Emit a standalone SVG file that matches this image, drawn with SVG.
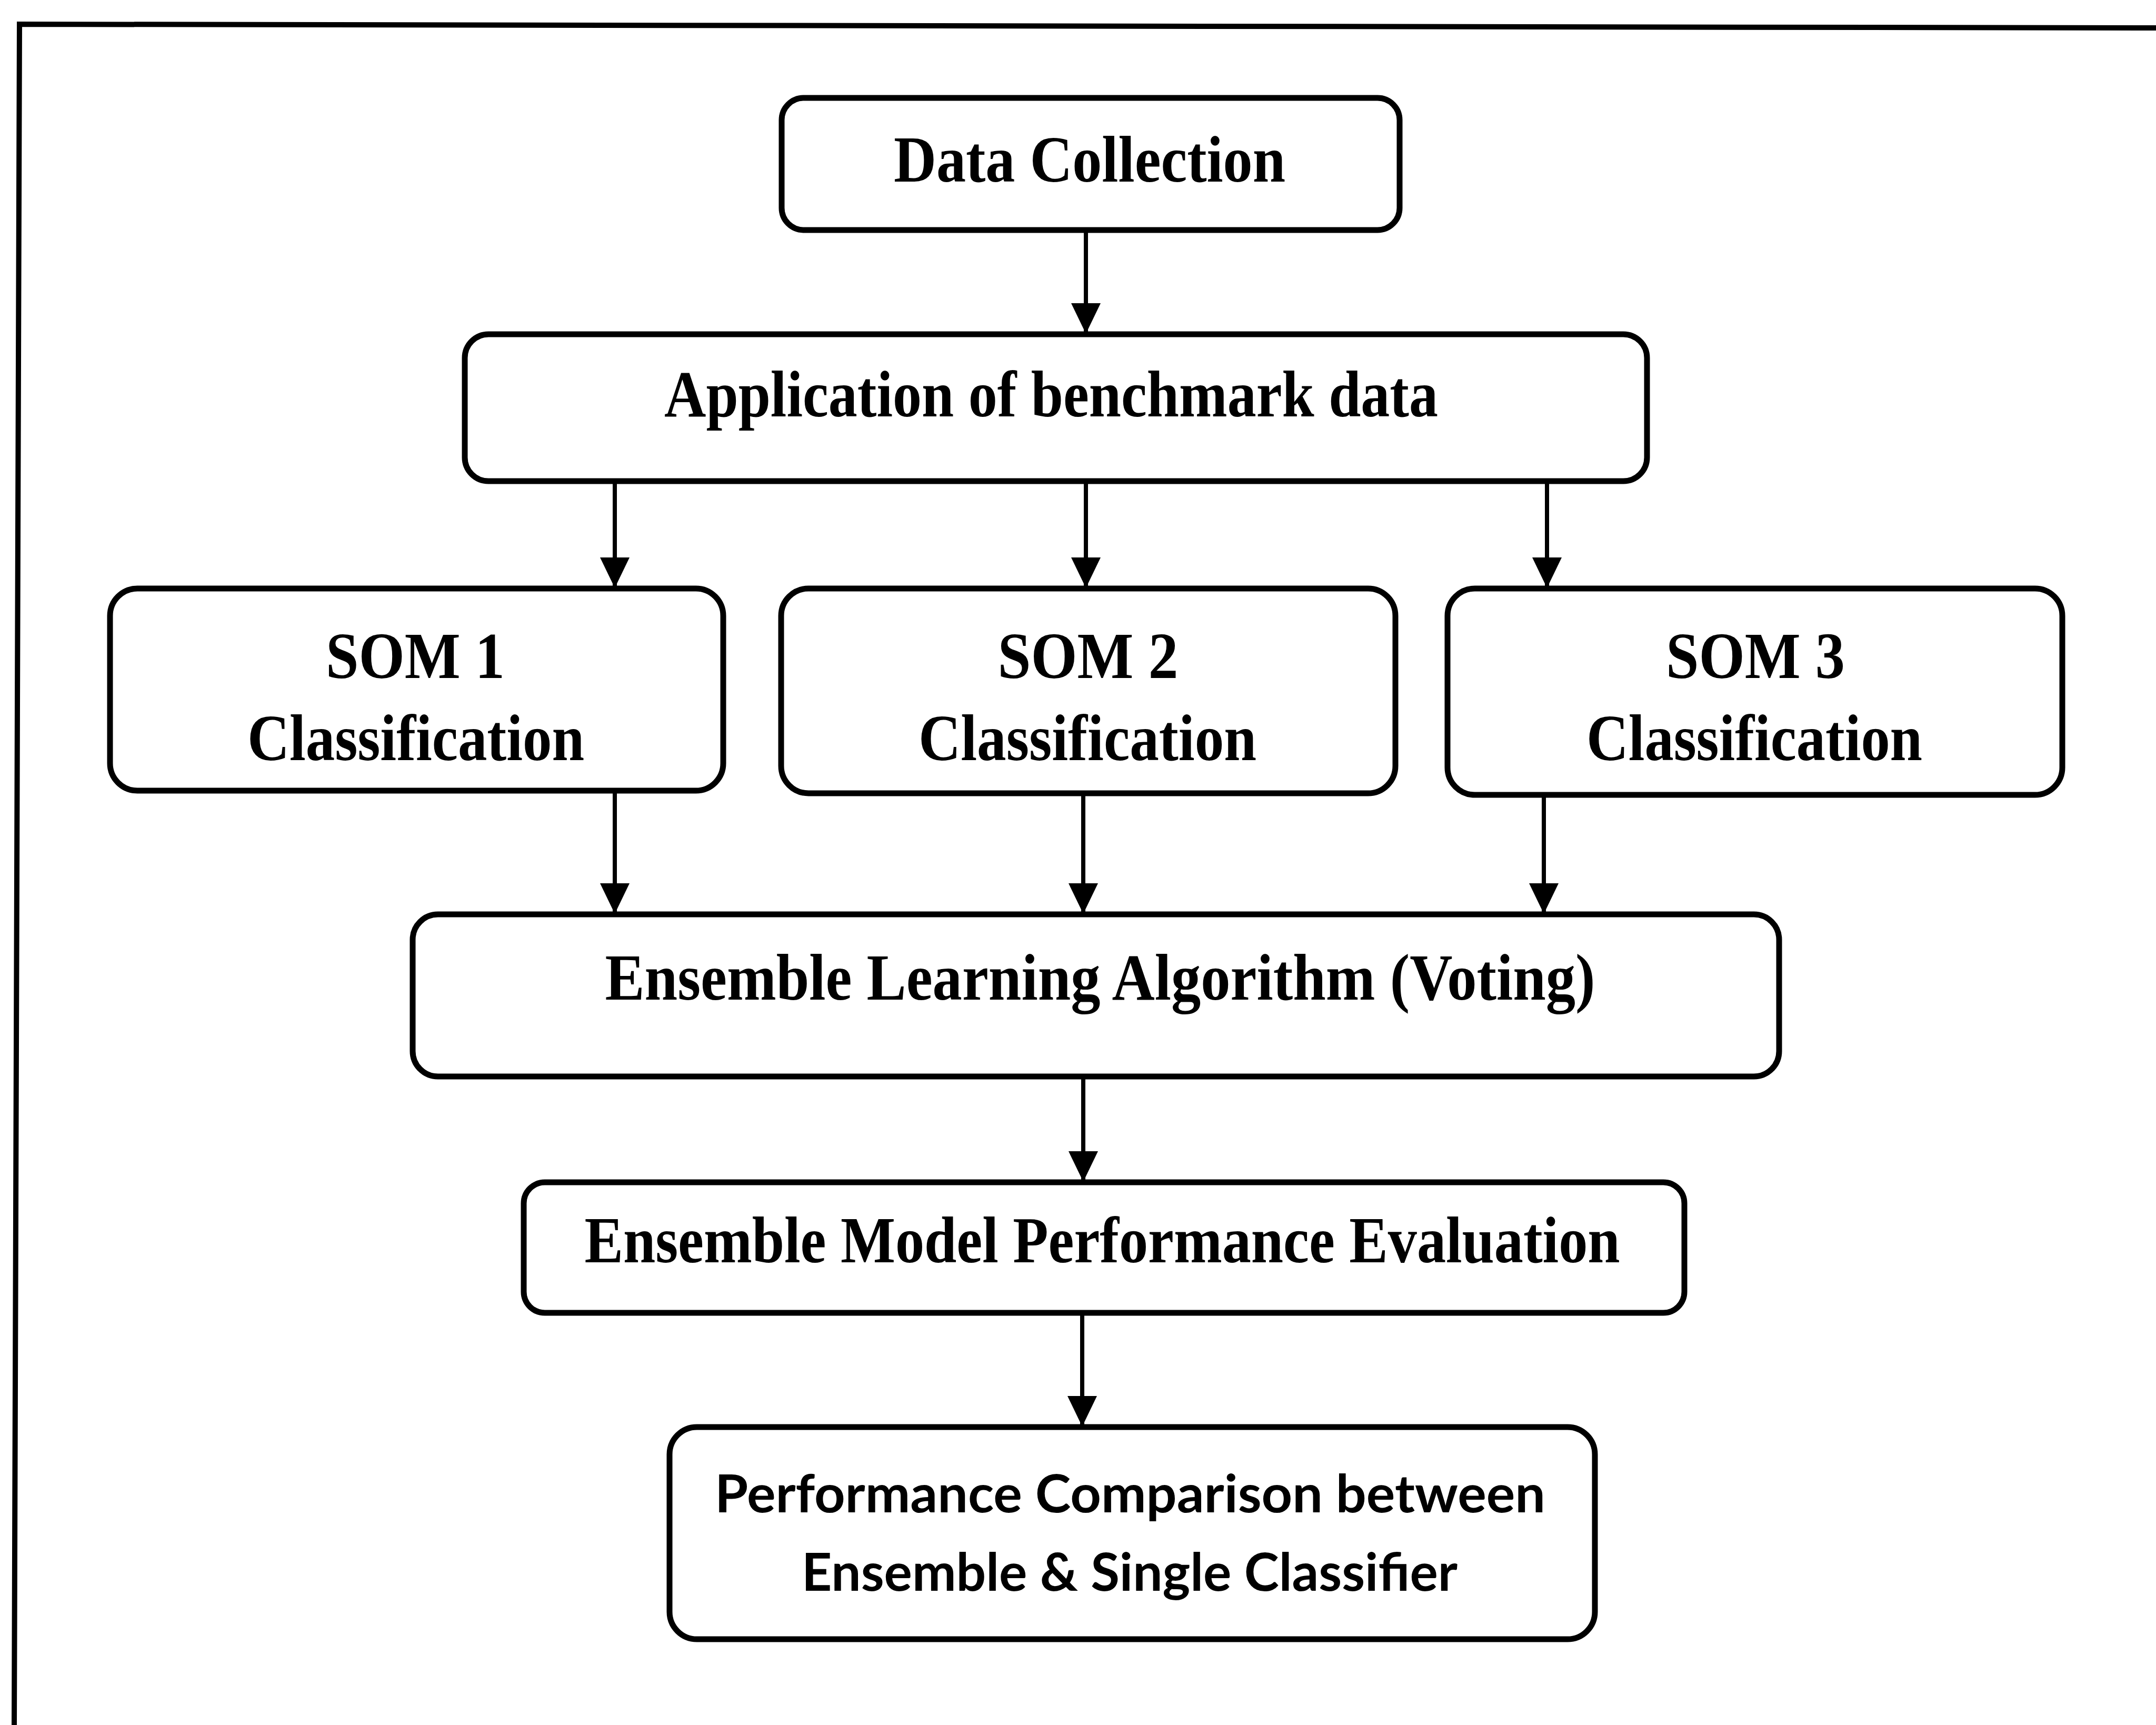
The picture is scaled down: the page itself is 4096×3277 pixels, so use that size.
<svg xmlns="http://www.w3.org/2000/svg" width="4096" height="3277" viewBox="0 0 4096 3277">
<style>
.box{fill:#fff;stroke:#000;stroke-width:11}
.conn{stroke:#000;stroke-width:8;fill:none}
.serif{font-family:"Liberation Serif","Times New Roman",serif;font-weight:bold;font-size:124px;fill:#000;text-anchor:middle}
.sans{font-family:Lato,"Open Sans","Liberation Sans",sans-serif;font-weight:bold;font-size:100px;fill:#000;text-anchor:middle}
</style>
<defs>
<marker id="ah" viewBox="0 0 58 56" refX="56" refY="28" markerWidth="58" markerHeight="56" markerUnits="userSpaceOnUse" orient="auto">
<path d="M0,0 L58,28 L0,56 Z" fill="#000"/>
</marker>
</defs>
<rect width="4096" height="3277" fill="#fff"/>
<polyline points="27,3277 37,46 4096,53" fill="none" stroke="#000" stroke-width="10"/>
<g id="connectors">
<line class="conn" x1="2063" y1="439" x2="2063" y2="632" marker-end="url(#ah)"/>
<line class="conn" x1="1168" y1="914" x2="1168" y2="1115" marker-end="url(#ah)"/>
<line class="conn" x1="2063" y1="914" x2="2063" y2="1115" marker-end="url(#ah)"/>
<line class="conn" x1="2939" y1="914" x2="2939" y2="1115" marker-end="url(#ah)"/>
<line class="conn" x1="1168" y1="1502" x2="1168" y2="1734" marker-end="url(#ah)"/>
<line class="conn" x1="2058" y1="1507" x2="2058" y2="1734" marker-end="url(#ah)"/>
<line class="conn" x1="2933" y1="1510" x2="2933" y2="1734" marker-end="url(#ah)"/>
<line class="conn" x1="2058" y1="2045" x2="2058" y2="2243" marker-end="url(#ah)"/>
<line class="conn" x1="2056" y1="2494" x2="2056" y2="2708" marker-end="url(#ah)"/>
</g>
<g id="data-collection">
<rect class="box" x="1485" y="186" width="1174" height="251" rx="42"/>
<text class="serif" x="2070" y="345" textLength="744" lengthAdjust="spacingAndGlyphs">Data Collection</text>
</g>
<g id="application">
<rect class="box" x="883" y="635" width="2246" height="279" rx="45"/>
<text class="serif" x="1997" y="791" textLength="1470" lengthAdjust="spacingAndGlyphs">Application of benchmark data</text>
</g>
<g id="som1">
<rect class="box" x="209" y="1118" width="1165" height="384" rx="52"/>
<text class="serif" x="789" y="1288" textLength="340" lengthAdjust="spacingAndGlyphs">SOM 1</text>
<text class="serif" x="790" y="1444" textLength="640" lengthAdjust="spacingAndGlyphs">Classification</text>
</g>
<g id="som2">
<rect class="box" x="1484" y="1118" width="1167" height="389" rx="52"/>
<text class="serif" x="2067" y="1288" textLength="343" lengthAdjust="spacingAndGlyphs">SOM 2</text>
<text class="serif" x="2066" y="1444" textLength="642" lengthAdjust="spacingAndGlyphs">Classification</text>
</g>
<g id="som3">
<rect class="box" x="2750" y="1118" width="1168" height="392" rx="52"/>
<text class="serif" x="3335" y="1288" textLength="340" lengthAdjust="spacingAndGlyphs">SOM 3</text>
<text class="serif" x="3333" y="1444" textLength="638" lengthAdjust="spacingAndGlyphs">Classification</text>
</g>
<g id="ensemble-learning">
<rect class="box" x="784" y="1737" width="2596" height="308" rx="48"/>
<text class="serif" x="2090" y="1899" textLength="1881" lengthAdjust="spacingAndGlyphs">Ensemble Learning Algorithm (Voting)</text>
</g>
<g id="ensemble-evaluation">
<rect class="box" x="995" y="2246" width="2205" height="248" rx="40"/>
<text class="serif" x="2094" y="2398" textLength="1967" lengthAdjust="spacingAndGlyphs">Ensemble Model Performance Evaluation</text>
</g>
<g id="performance-comparison">
<rect class="box" x="1272" y="2711" width="1758" height="403" rx="52"/>
<text class="sans" x="2147" y="2873" textLength="1578" lengthAdjust="spacingAndGlyphs">Performance Comparison between</text>
<text class="sans" x="2146" y="3022" textLength="1246" lengthAdjust="spacingAndGlyphs">Ensemble &amp; Single Classifier</text>
</g>
</svg>
